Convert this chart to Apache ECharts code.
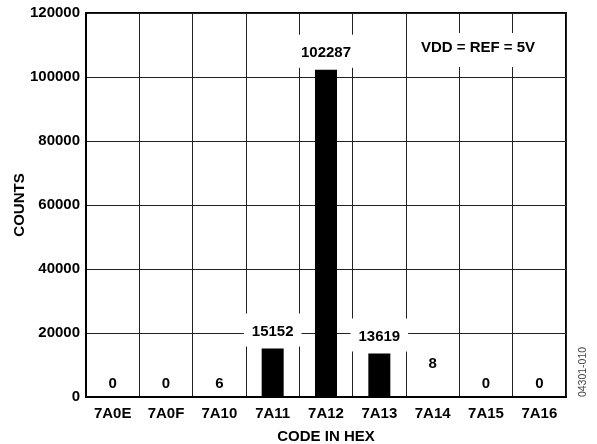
<!DOCTYPE html>
<html>
<head>
<meta charset="utf-8">
<style>html,body{margin:0;padding:0;background:#fff}#c{width:597px;height:444px}</style>
<script src="https://cdn.jsdelivr.net/npm/echarts@6/dist/echarts.min.js"></script>
</head>
<body>
<div id="c"></div>
<script>
const categories = ['7A0E','7A0F','7A10','7A11','7A12','7A13','7A14','7A15','7A16'];
const counts = [0, 0, 6, 15152, 102287, 13619, 8, 0, 0];
const yTicks = [0, 20000, 40000, 60000, 80000, 100000, 120000];
const annotation = 'VDD = REF = 5V';

const FONT = 'Liberation Sans, Arial, sans-serif';
const labelDistance = {'7A14': 25};

const seriesData = counts.map((v, i) => {
  const big = v >= 1000;
  const lab = {
    show: true,
    position: 'top',
    distance: big ? 2 : (labelDistance[categories[i]] || 5),
    color: '#000',
    fontFamily: FONT,
    fontWeight: 'bold',
    fontSize: 15,
    lineHeight: 17
  };
  if (big) {
    lab.backgroundColor = '#fff';
    lab.padding = [10, 8, 6, 8];
  }
  return {value: v, label: lab};
});

const chart = echarts.init(document.getElementById('c'), null, {renderer: 'canvas'});
chart.setOption({
  animation: false,
  backgroundColor: '#fff',
  grid: {left: 86, right: 31, top: 13, bottom: 47, containLabel: false, outerBoundsMode: 'none',
         show: true, borderColor: '#000', borderWidth: 2, backgroundColor: 'transparent'},
  xAxis: {
    type: 'category',
    data: categories,
    name: 'CODE IN HEX',
    nameLocation: 'middle',
    nameGap: 32,
    nameMoveOverlap: false,
    nameTextStyle: {color: '#000', fontFamily: FONT, fontWeight: 'bold', fontSize: 15},
    axisLine: {show: true, lineStyle: {color: '#000', width: 2}},
    axisTick: {show: false},
    axisLabel: {color: '#000', fontFamily: FONT, fontWeight: 'bold', fontSize: 15, margin: 9, interval: 0},
    splitLine: {show: true, interval: 0, lineStyle: {color: '#222', width: 1}}
  },
  yAxis: {
    type: 'value',
    min: yTicks[0],
    max: yTicks[yTicks.length - 1],
    interval: yTicks[1] - yTicks[0],
    name: 'COUNTS',
    nameLocation: 'middle',
    nameGap: 59,
    nameRotate: 90,
    nameMoveOverlap: false,
    nameTextStyle: {color: '#000', fontFamily: FONT, fontWeight: 'bold', fontSize: 15},
    axisLine: {show: true, lineStyle: {color: '#000', width: 2}},
    axisTick: {show: false},
    axisLabel: {color: '#000', fontFamily: FONT, fontWeight: 'bold', fontSize: 15, margin: 6,
                formatter: v => String(v)},
    splitLine: {show: true, lineStyle: {color: '#222', width: 1}}
  },
  series: [{
    type: 'bar',
    data: seriesData,
    barWidth: 22,
    itemStyle: {color: '#000'},
    z: 3
  }],
  graphic: [
    {type: 'rect', z: 100, shape: {x: 412, y: 33, width: 132, height: 34}, style: {fill: '#fff'}},
    {type: 'text', z: 101, x: 478, y: 48, style: {text: annotation, fill: '#000', font: 'bold 15px ' + FONT, textAlign: 'center', textVerticalAlign: 'middle'}},
    {type: 'text', z: 101, x: 583, y: 372, rotation: Math.PI / 2, style: {text: '04301-010', fill: '#444', font: '10.5px ' + FONT, textAlign: 'center', textVerticalAlign: 'middle'}}
  ]
});
</script>
</body>
</html>
